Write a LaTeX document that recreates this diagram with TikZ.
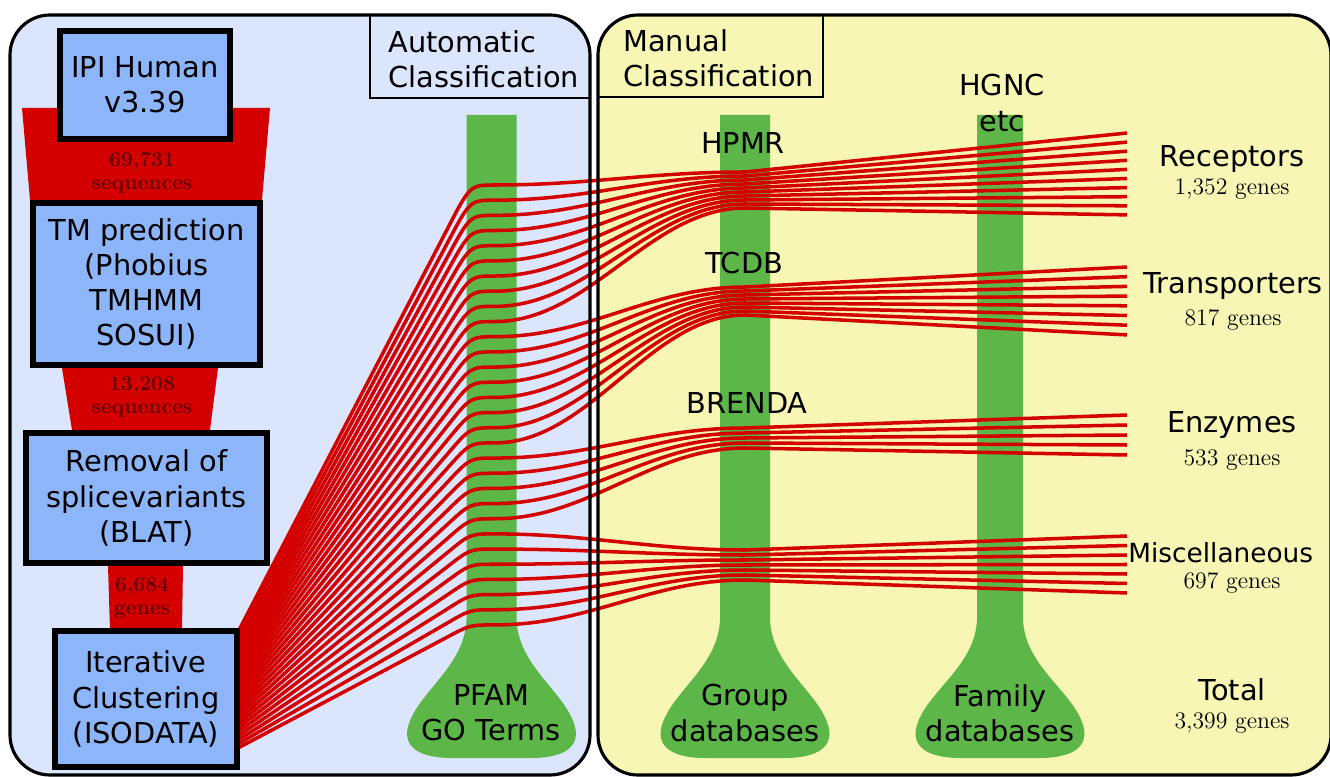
\documentclass[tikz,border=0pt]{standalone}
\usepackage{fontspec}
\setsansfont{DejaVu Sans}
\usetikzlibrary{calc}
\definecolor{autoblue}{RGB}{219,230,252}
\definecolor{manyellow}{RGB}{247,246,180}
\definecolor{stageblue}{RGB}{141,181,249}
\definecolor{flowred}{RGB}{212,0,0}
\definecolor{dbgreen}{RGB}{93,182,72}
\definecolor{countred}{RGB}{100,0,0}
\tikzset{
  stage/.style={draw=black,line width=3.4pt,fill=stageblue,align=center,inner sep=0pt},
  flow/.style={draw=flowred,line width=2pt},
  panel/.style={line width=1.8pt,rounded corners=0.8cm},
  dblabel/.style={align=center,inner sep=0pt},
  cat/.style={inner sep=0pt},
  genes/.style={inner sep=0pt,font=\rmfamily\fontsize{13.5}{14}\selectfont},
  funnellabel/.style={align=center,inner sep=0pt,text=countred,font=\rmfamily\bfseries\fontsize{12}{13}\selectfont},
}
% green database bar with flask foot: centre, half width
\newcommand{\dbflask}[2]{\fill[dbgreen] (#1-#2,115) -- (#1+#2,115) -- (#1+#2,620)
  .. controls (#1+#2+2,665) and (#1+70,690) .. (#1+82,722)
  .. controls (#1+92,748) and (#1+70,758) .. (#1+40,758) -- (#1-40,758)
  .. controls (#1-70,758) and (#1-92,748) .. (#1-82,722)
  .. controls (#1-70,690) and (#1-#2-2,665) .. (#1-#2,620) -- cycle;}
\begin{document}
\begin{tikzpicture}[x=0.02cm,y=-0.02cm,font=\sffamily\fontsize{16.4}{20}\selectfont]
\useasboundingbox (0,0) rectangle (1330,777);
\fill[white] (0,0) rectangle (1330,777);
% panels
\fill[autoblue,rounded corners=0.8cm] (10,15) rectangle (590,775);
\fill[manyellow,rounded corners=0.8cm] (598,15) rectangle (1331,775);
% funnel
\fill[flowred] (22,108) -- (270,108) -- (262,200) -- (218,368) -- (210,430) -- (183,566) -- (182,630)
  -- (110,630) -- (108,566) -- (72,430) -- (62,368) -- (30,200) -- cycle;
\node[funnellabel] (f1) at (142,173) {69,731\\sequences};
\node[funnellabel] (f2) at (142,397) {13,208\\sequences};
\node[funnellabel] (f3) at (142,598) {6,684\\genes};
% databases
\dbflask{491.5}{25}
\dbflask{745}{25}
\dbflask{1000}{23}
% flows
\foreach \first/\nlines/\grpy/\grpstep/\endy/\endstep in {0/10/172/4/133/9.1,10/8/287/4/267/9.7,18/5/428/5/415/10,23/7/550/5/536/9.5}{
  \pgfmathtruncatemacro\lastj{\nlines-1}
  \foreach \j in {0,...,\lastj}{
    \pgfmathtruncatemacro\k{\first+\j}
    \pgfmathsetmacro\srcy{632+4*\k}
    \pgfmathsetmacro\pfy{185+15.17*\k}
    \pgfmathsetmacro\bendy{0.9*\pfy+0.1*\srcy}
    \pgfmathsetmacro\grpmid{\grpy+\grpstep*\j}
    \pgfmathsetmacro\dsty{\endy+\endstep*\j}
    \coordinate (src\k) at (238,\srcy);
    \coordinate (dst\k) at (1127,\dsty);
    \draw[flow] (src\k) -- (447,\bendy) .. controls (470,\pfy) .. (495,\pfy)
      .. controls (590,\pfy) and (650,\grpmid) .. (745,\grpmid) -- (dst\k);
  }
}
% pipeline
\node[stage,minimum width=3.4cm,minimum height=2.16cm] (ipi) at (145,85) {IPI Human\\v3.39};
\node[stage,minimum width=4.54cm,minimum height=3.24cm] (tm) at (146.5,284) {TM prediction\\(Phobius\\TMHMM\\SOSUI)};
\node[stage,minimum width=4.82cm,minimum height=2.6cm] (rem) at (146.5,498) {Removal of\\splicevariants\\(BLAT)};
\node[stage,minimum width=3.64cm,minimum height=2.72cm] (iter) at (146,699) {Iterative\\Clustering\\(ISODATA)};
% borders
\draw[panel] (10,15) rectangle (590,775);
\draw[panel] (598,15) rectangle (1331,775);
\draw[line width=1.4pt] (370,15) -- (370,98) -- (590,98);
\draw[line width=1.4pt] (598,97) -- (823,97) -- (823,15);
\node[anchor=west,align=left,inner sep=0pt] (autohead) at (388,59) {Automatic\\Classification};
\node[anchor=west,align=left,inner sep=0pt] (manhead) at (623,58) {Manual\\Classification};
% database labels
\node[dblabel] (pfam) at (491,713) {PFAM\\GO Terms};
\node[dblabel] (group) at (745,713) {Group\\databases};
\node[dblabel] (family) at (1000,713) {Family\\databases};
\node[dblabel] (hpmr) at (743,143) {HPMR};
\node[dblabel] (tcdb) at (744,263) {TCDB};
\node[dblabel] (brenda) at (747,403) {BRENDA};
\node[dblabel] (hgnc) at (1002,103) {HGNC\\etc};
% categories
\node[cat] (rec) at (1232,159) {Receptors};
\node[genes] (recn) at (1232,189) {1,352 genes};
\node[cat] (trans) at (1233,286) {Transporters};
\node[genes] (transn) at (1233,320) {817 genes};
\node[cat] (enz) at (1232,425) {Enzymes};
\node[genes] (enzn) at (1232,460) {533 genes};
\node[cat,anchor=west,font=\sffamily\fontsize{15}{18}\selectfont] (misc) at (1128,553) {Miscellaneous};
\node[genes] (miscn) at (1232,583) {697 genes};
\node[cat] (total) at (1232,690) {Total};
\node[genes] (totaln) at (1232,723) {3,399 genes};
\end{tikzpicture}
\end{document}
